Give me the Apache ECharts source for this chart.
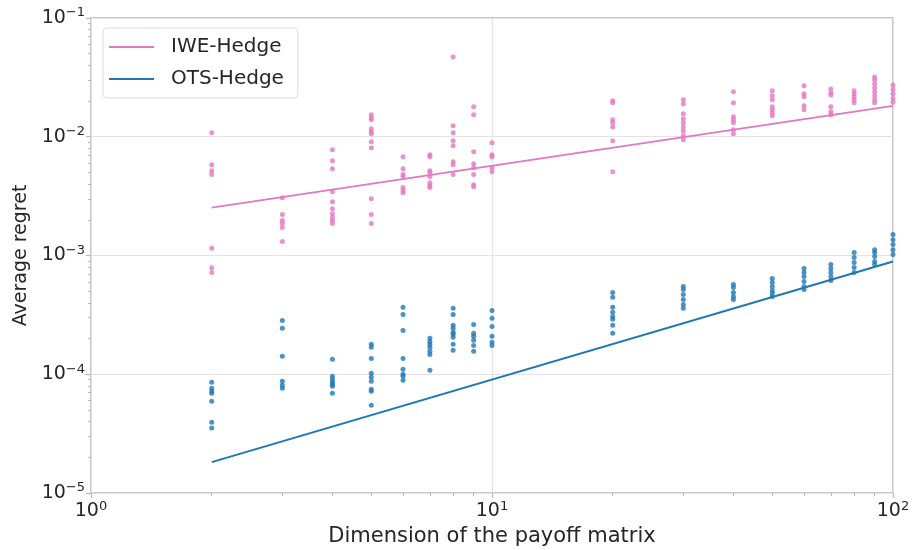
<!DOCTYPE html>
<html>
<head>
<meta charset="utf-8">
<script src="https://cdn.jsdelivr.net/npm/echarts@6/dist/echarts.min.js"></script>
<style>html,body{margin:0;padding:0;background:#fff}#c{width:917px;height:550px}</style>
</head>
<body>
<div id="c"></div>
<script>
// ---- data ----
const dims = [2, 3, 4, 5, 6, 7, 8, 9, 10, 20, 30, 40, 50, 60, 70, 80, 90, 100];

const iweRuns = [
  [0.0108, 0.00582, 0.00518, 0.0048, 0.00115, 0.00079, 0.00072],
  [0.00307, 0.00221, 0.00197, 0.00186, 0.00172, 0.00131],
  [0.00778, 0.00628, 0.00538, 0.00345, 0.00284, 0.00248, 0.00225, 0.00209, 0.00197, 0.00186],
  [0.0153, 0.01445, 0.0139, 0.01167, 0.0110, 0.0106, 0.00907, 0.00809, 0.00301, 0.00221, 0.00186],
  [0.00679, 0.00538, 0.0048, 0.00462, 0.00373, 0.00352, 0.00338],
  [0.00706, 0.00679, 0.00518, 0.00498, 0.00462, 0.0041, 0.00387, 0.00373],
  [0.047, 0.01236, 0.0108, 0.00925, 0.0084, 0.00616, 0.00582, 0.0048],
  [0.01786, 0.0153, 0.00748, 0.00593, 0.00548, 0.0048, 0.00395, 0.0038],
  [0.0089, 0.00706, 0.00679, 0.00548, 0.00508],
  [0.0201, 0.0193, 0.0139, 0.0131, 0.0121, 0.00925, 0.00508],
  [0.0205, 0.0189, 0.0156, 0.01415, 0.0131, 0.0121, 0.0112, 0.0102, 0.00944],
  [0.0239, 0.0193, 0.01472, 0.0139, 0.0131, 0.01145, 0.0106],
  [0.0244, 0.0221, 0.0205, 0.0179, 0.01686, 0.0159, 0.015],
  [0.0269, 0.0230, 0.0217, 0.0182, 0.01686],
  [0.0253, 0.0234, 0.0225, 0.0179, 0.0162, 0.0153],
  [0.0244, 0.0230, 0.0217, 0.0205, 0.0193],
  [0.0319, 0.0301, 0.0279, 0.0258, 0.0239, 0.0221, 0.0205, 0.0193],
  [0.0273, 0.0250, 0.0230, 0.0210, 0.0195]
];

const otsRuns = [
  [8.57e-5, 7.63e-5, 7.19e-5, 6.92e-5, 5.93e-5, 3.95e-5, 3.52e-5],
  [2.84e-4, 2.44e-4, 1.42e-4, 8.73e-5, 8.09e-5, 7.63e-5],
  [1.34e-4, 9.62e-5, 9.08e-5, 8.57e-5, 8.24e-5, 7.93e-5, 6.92e-5],
  [1.79e-4, 1.69e-4, 1.36e-4, 1.02e-4, 9.43e-5, 8.73e-5, 7.48e-5, 7.19e-5, 5.48e-5],
  [3.66e-4, 3.19e-4, 2.34e-4, 1.36e-4, 1.10e-4, 1.0e-4, 9.62e-5, 8.91e-5],
  [2.01e-4, 1.89e-4, 1.79e-4, 1.69e-4, 1.56e-4, 1.47e-4, 1.08e-4],
  [3.59e-4, 3.19e-4, 2.58e-4, 2.44e-4, 2.26e-4, 2.17e-4, 2.05e-4, 1.79e-4, 1.59e-4],
  [2.63e-4, 2.21e-4, 2.09e-4, 1.93e-4, 1.75e-4, 1.56e-4],
  [3.45e-4, 2.96e-4, 2.53e-4, 2.09e-4, 1.86e-4, 1.75e-4],
  [4.89e-4, 4.44e-4, 3.66e-4, 3.32e-4, 3.07e-4, 2.90e-4, 2.58e-4, 2.21e-4],
  [5.48e-4, 5.18e-4, 4.70e-4, 4.27e-4, 3.87e-4, 3.59e-4],
  [5.70e-4, 5.38e-4, 4.89e-4, 4.52e-4, 4.27e-4],
  [6.41e-4, 5.93e-4, 5.48e-4, 5.08e-4, 4.80e-4, 4.52e-4],
  [7.78e-4, 7.20e-4, 6.67e-4, 6.05e-4, 5.48e-4, 5.18e-4],
  [8.40e-4, 7.78e-4, 7.20e-4, 6.67e-4, 6.17e-4],
  [1.06e-3, 9.62e-4, 8.73e-4, 7.93e-4, 7.20e-4],
  [1.12e-3, 1.06e-3, 9.82e-4, 8.91e-4, 8.40e-4],
  [1.50e-3, 1.36e-3, 1.24e-3, 1.12e-3, 1.02e-3]
];

const fitX = [2, 100];
const iweFit = [0.00253, 0.0182];
const otsFit = [1.82e-5, 8.9e-4];

const xMajorTicks = [1, 10, 100];
const xMinorTicks = [2, 3, 4, 5, 6, 7, 8, 9, 20, 30, 40, 50, 60, 70, 80, 90];
const yMajorTicks = [1e-5, 1e-4, 1e-3, 1e-2, 1e-1];
const yMinorTicks = [2e-5,3e-5,4e-5,5e-5,6e-5,7e-5,8e-5,9e-5,
                     2e-4,3e-4,4e-4,5e-4,6e-4,7e-4,8e-4,9e-4,
                     2e-3,3e-3,4e-3,5e-3,6e-3,7e-3,8e-3,9e-3,
                     2e-2,3e-2,4e-2,5e-2,6e-2,7e-2,8e-2,9e-2];

const seriesNames = ['IWE-Hedge', 'OTS-Hedge'];
const colors = ['#e377c2', '#1f77b4'];

// ---- build ----
function pts(runs) {
  const out = [];
  runs.forEach((vals, i) => vals.forEach(v => out.push([dims[i], v])));
  return out;
}
function fit(ys) { return fitX.map((x, i) => [x, ys[i]]); }
function powLabel(v) {
  const e = Math.round(Math.log10(v));
  return '{b|10}{s|' + String(e).replace('-', '\u2212') + '}';
}
const txt = '#262626';
const rich = {
  b: { fontSize: 19, color: txt, fontFamily: 'DejaVu Sans' },
  s: { fontSize: 13, color: txt, fontFamily: 'DejaVu Sans', padding: [0, 0, 10, 0] }
};
const gridC = '#e3e3e3', spineC = '#b8b8b8';
const L10 = Math.log10;

const chart = echarts.init(document.getElementById('c'), null, { renderer: 'canvas' });
chart.setOption({
  animation: false,
  backgroundColor: '#fff',
  textStyle: { fontFamily: 'DejaVu Sans' },
  grid: { left: 91, right: 24, top: 18, bottom: 57, show: true, borderColor: spineC, borderWidth: 1.6,
          backgroundColor: 'transparent', containLabel: false, outerBoundsMode: 'none' },
  legend: {
    data: seriesNames.map(n => ({ name: n, icon: 'rect' })),
    orient: 'vertical', left: 103, top: 28,
    itemWidth: 45, itemHeight: 2, itemGap: 10,
    padding: [8, 14, 8, 6],
    backgroundColor: '#fff', borderColor: '#dcdcdc', borderWidth: 1, borderRadius: 4,
    textStyle: { fontSize: 20, color: txt, fontFamily: 'DejaVu Sans', padding: [0, 0, 0, 12], lineHeight: 22 }
  },
  xAxis: [
    { type: 'log', logBase: 10, min: 1, max: 100, gridIndex: 0, position: 'bottom',
      name: 'Dimension of the payoff matrix', nameLocation: 'middle', nameGap: 31,
      nameTextStyle: { fontSize: 21, color: txt, fontFamily: 'DejaVu Sans' },
      axisLine: { show: false },
      axisTick: { show: true, length: 5, lineStyle: { color: spineC, width: 1.2 } },
      axisLabel: { formatter: powLabel, rich: rich, margin: 7 },
      splitLine: { show: true, lineStyle: { color: gridC, width: 1.2 } } },
    { type: 'value', min: L10(1), max: L10(100), gridIndex: 0, position: 'bottom',
      axisLine: { show: false }, splitLine: { show: false },
      axisLabel: { show: false },
      axisTick: { show: true, length: 3, customValues: xMinorTicks.map(L10), lineStyle: { color: spineC, width: 1 } } }
  ],
  yAxis: [
    { type: 'log', logBase: 10, min: 1e-5, max: 1e-1, gridIndex: 0, position: 'left',
      name: 'Average regret', nameLocation: 'middle', nameGap: 57, nameRotate: 90,
      nameTextStyle: { fontSize: 19, color: txt, fontFamily: 'DejaVu Sans' },
      axisLine: { show: false },
      axisTick: { show: true, length: 5, lineStyle: { color: spineC, width: 1.2 } },
      axisLabel: { formatter: powLabel, rich: rich, margin: 6 },
      splitLine: { show: true, lineStyle: { color: gridC, width: 1.2 } } },
    { type: 'value', min: L10(1e-5), max: L10(1e-1), gridIndex: 0, position: 'left',
      axisLine: { show: false }, splitLine: { show: false },
      axisLabel: { show: false },
      axisTick: { show: true, length: 3, customValues: yMinorTicks.map(L10), lineStyle: { color: spineC, width: 1 } } }
  ],
  series: [
    { name: seriesNames[0], type: 'line', xAxisIndex: 0, yAxisIndex: 0, data: fit(iweFit),
      showSymbol: false, lineStyle: { color: colors[0], width: 2 }, itemStyle: { color: colors[0] }, z: 3 },
    { name: seriesNames[1], type: 'line', xAxisIndex: 0, yAxisIndex: 0, data: fit(otsFit),
      showSymbol: false, lineStyle: { color: colors[1], width: 2 }, itemStyle: { color: colors[1] }, z: 3 },
    { name: 'IWE-Hedge runs', type: 'scatter', xAxisIndex: 0, yAxisIndex: 0, data: pts(iweRuns),
      symbolSize: 5, itemStyle: { color: colors[0] }, z: 4 },
    { name: 'OTS-Hedge runs', type: 'scatter', xAxisIndex: 0, yAxisIndex: 0, data: pts(otsRuns),
      symbolSize: 5, itemStyle: { color: colors[1] }, z: 4 }
  ]
});
</script>
</body>
</html>
